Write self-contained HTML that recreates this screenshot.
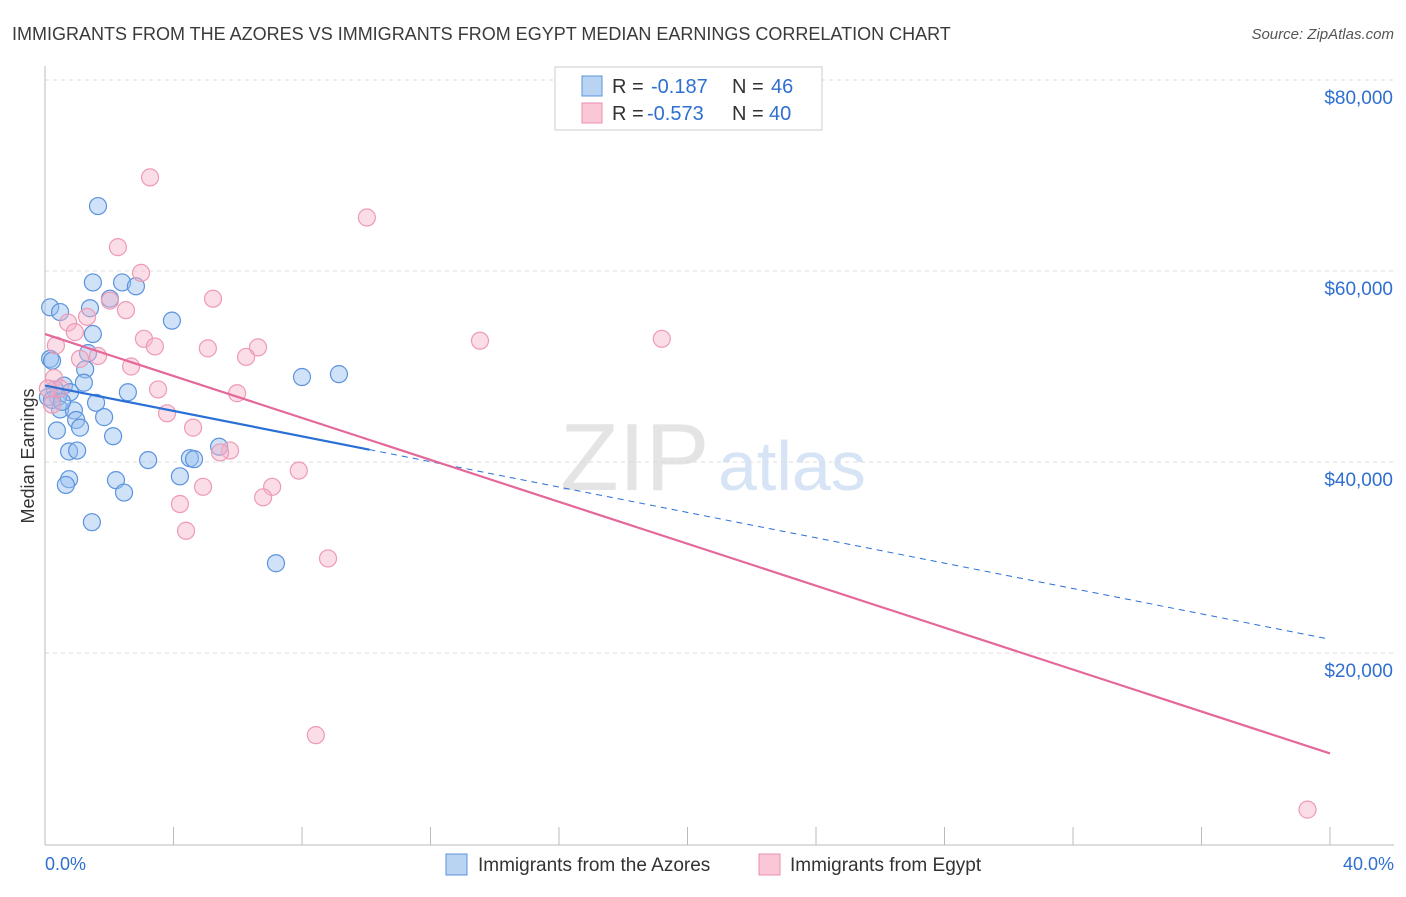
<!DOCTYPE html>
<html><head><meta charset="utf-8"><style>
body{margin:0;background:#fff;font-family:"Liberation Sans",sans-serif;}
svg text{font-family:"Liberation Sans",sans-serif;}
</style></head><body>
<svg id="chart" width="1406" height="892">
<text x="12" y="40" font-size="18" fill="#3a3a3a">IMMIGRANTS FROM THE AZORES VS IMMIGRANTS FROM EGYPT MEDIAN EARNINGS CORRELATION CHART</text>
<text x="1394" y="39" font-size="15" fill="#555" font-style="italic" text-anchor="end">Source: ZipAtlas.com</text>
<text x="34" y="456" font-size="18" fill="#333" text-anchor="middle" transform="rotate(-90 34 456)">Median Earnings</text>
<text x="560" y="490" font-size="96" fill="#e4e4e4" font-family="Liberation Serif">ZIP</text>
<text x="718" y="490" font-size="70" fill="#d6e4f5">atlas</text>
<g id="grid"></g><g id="pts"></g><g id="lines"></g>
<g>
<rect x="555" y="67" width="267" height="63" fill="#fff" stroke="#ccc"/>
<rect x="582" y="76" width="20" height="20" fill="#b9d3f3" stroke="#5b93dd"/>
<rect x="582" y="103" width="20" height="20" fill="#f9c7d6" stroke="#ea8fac"/>
<text x="612" y="93" font-size="20" fill="#333">R =</text>
<text x="651" y="93" font-size="20" fill="#2f6fd0">-0.187</text>
<text x="732" y="93" font-size="20" fill="#333">N =</text>
<text x="771" y="93" font-size="20" fill="#2f6fd0">46</text>
<text x="612" y="120" font-size="20" fill="#333">R =</text>
<text x="647" y="120" font-size="20" fill="#2f6fd0">-0.573</text>
<text x="732" y="120" font-size="20" fill="#333">N =</text>
<text x="769" y="120" font-size="20" fill="#2f6fd0">40</text>
</g>
<g>
<rect x="446" y="854" width="21" height="21" fill="#b9d3f3" stroke="#5b93dd"/>
<text x="478" y="871" font-size="19" fill="#333">Immigrants from the Azores</text>
<rect x="759" y="854" width="21" height="21" fill="#f9c7d6" stroke="#ea8fac"/>
<text x="790" y="871" font-size="19" fill="#333">Immigrants from Egypt</text>
</g>
<text x="45" y="870" font-size="18" fill="#2f6fd0">0.0%</text>
<text x="1394" y="870" font-size="18" fill="#2f6fd0" text-anchor="end">40.0%</text>
</svg>
<script>
const yTicks=[20000,40000,60000,80000];
const yTickLabels=["$20,000","$40,000","$60,000","$80,000"];
const azoresX=[1.65,1.49,2.40,2.83,2.02,0.16,0.47,1.40,3.95,1.49,0.16,0.22,1.34,1.25,9.15,8.0,1.21,0.59,0.31,0.78,2.58,0.09,0.40,1.59,0.47,0.90,1.84,0.97,1.09,0.37,2.12,3.21,4.51,4.64,5.42,0.75,1.0,4.2,2.21,0.75,0.65,2.46,1.46,7.19,0.22,0.53];
const azoresY=[66800,58800,58800,58400,57100,56200,55700,56100,54800,53400,50800,50600,51400,49700,49200,48900,48300,48000,47600,47300,47300,46800,46800,46200,45500,45400,44700,44400,43600,43300,42700,40200,40400,40300,41600,41100,41200,38500,38100,38200,37600,36800,33700,29400,46500,46300];
const egyptX=[3.27,10.02,2.27,2.99,5.23,2.02,2.52,1.31,0.72,0.93,0.34,3.08,13.54,19.2,3.42,5.07,6.63,6.26,1.65,1.09,2.68,0.28,0.47,3.52,5.98,0.22,3.8,4.61,5.76,5.45,7.9,4.92,7.07,6.79,4.2,4.39,8.81,8.43,39.3,0.09];
const egyptY=[69800,65600,62500,59800,57100,56900,55900,55200,54600,53600,52200,52900,52700,52900,52100,51900,52000,51000,51100,50800,50000,48800,47700,47600,47200,46000,45100,43600,41200,41000,39100,37400,37400,36300,35600,32800,29900,11400,3600,47700];
const trendAz=[48000,-664];   // intercept, slope per %
const trendEg=[53400,-1098];
const x=v=>45+v/40*1285, y=v=>844-v/20000*191;
const ns="http://www.w3.org/2000/svg";
function mk(t,a,p){const e=document.createElementNS(ns,t);for(const k in a)e.setAttribute(k,a[k]);p.appendChild(e);return e;}
const g=document.getElementById('grid');
yTicks.forEach((t,i)=>{
 const l=mk('line',{x1:45,x2:1394,y1:y(t),y2:y(t),stroke:'#ddd','stroke-dasharray':'4,4'},g);
 
 
 const tx=mk('text',{x:1393,y:y(t)+24,'font-size':19,fill:'#2f6fd0','text-anchor':'end'},g);tx.textContent=yTickLabels[i];
 
 
});
mk('line',{x1:45,x2:45,y1:66,y2:845,stroke:'#bbb'},g);
mk('line',{x1:45,x2:1394,y1:845,y2:845,stroke:'#bbb'},g);
for(let i=0;i<=10;i++){const t=mk('line',{x1:x(i*4),x2:x(i*4),y1:827,y2:845,stroke:'#bbb'},g);
 
 }
const p=document.getElementById('pts');
azoresX.forEach((v,i)=>{const c=mk('circle',{cx:x(v),cy:y(azoresY[i]),r:8.5,fill:'rgba(150,190,240,0.45)',stroke:'#5b93dd','stroke-width':1.2},p);
 
 });
egyptX.forEach((v,i)=>{const c=mk('circle',{cx:x(v),cy:y(egyptY[i]),r:8.5,fill:'rgba(247,180,202,0.45)',stroke:'#ee9ab4','stroke-width':1.2},p);
 
 });
const L=document.getElementById('lines');
const f=(tr,v)=>tr[0]+tr[1]*v;
let a=mk('line',{x1:x(0),y1:y(f(trendAz,0)),x2:x(10.1),y2:y(f(trendAz,10.1)),stroke:'#2a6fd6','stroke-width':2.2},L);


a=mk('line',{x1:x(10.1),y1:y(f(trendAz,10.1)),x2:x(40),y2:y(f(trendAz,40)),stroke:'#2a6fd6','stroke-width':1,'stroke-dasharray':'6,5'},L);


a=mk('line',{x1:x(0),y1:y(f(trendEg,0)),x2:x(40),y2:y(f(trendEg,40)),stroke:'#e4689a','stroke-width':2.2},L);


</script>
</body></html>
